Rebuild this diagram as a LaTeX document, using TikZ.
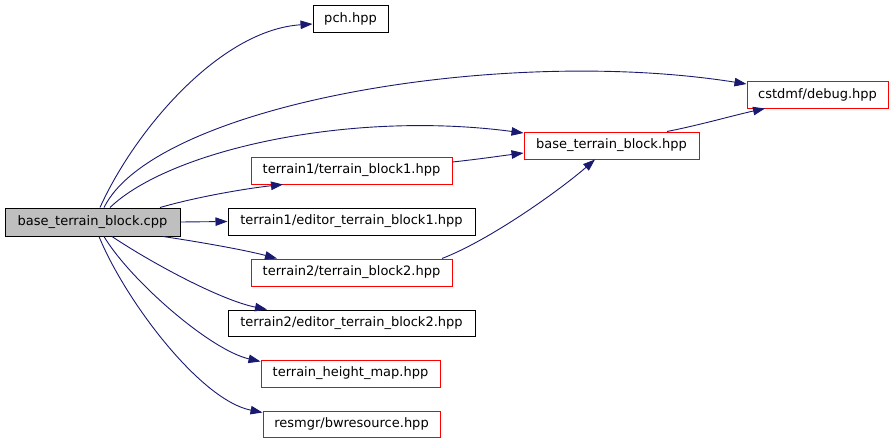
\documentclass[tikz,border=0pt]{standalone}
\usepackage{fontspec}
\setmainfont{DejaVu Sans}
\definecolor{EdgeBlue}{RGB}{25,25,112}
\definecolor{RootGray}{RGB}{191,191,191}
\usetikzlibrary{arrows.meta}
\tikzset{
  file/.style={draw=black, line width=1pt, minimum height=27pt, inner sep=0pt, font=\fontsize{13}{15}\selectfont},
  redfile/.style={file, draw=red},
  include/.style={EdgeBlue, line width=0.9pt, -{Triangle[length=12pt,width=8.5pt]}}
}

\begin{document}
\begin{tikzpicture}[x=1pt,y=-1pt]
    \useasboundingbox (0,0) rectangle (893,442);

    % Files
    \node[file, fill=RootGray, minimum width=175pt, minimum height=28pt] (cpp) at (92.5,222) {base\_terrain\_block.cpp};
    \node[file, minimum width=75pt] (pch) at (350.5,18.5) {pch.hpp};
    \node[redfile, minimum width=141pt] (debug) at (817.5,94.5) {cstdmf/debug.hpp};
    \node[redfile, minimum width=175pt] (bthpp) at (611.5,145.5) {base\_terrain\_block.hpp};
    \node[redfile, minimum width=201pt] (tb1) at (351.5,170.5) {terrain1/terrain\_block1.hpp};
    \node[file, minimum width=247pt] (etb1) at (351.5,221.5) {terrain1/editor\_terrain\_block1.hpp};
    \node[redfile, minimum width=201pt] (tb2) at (351.5,272.5) {terrain2/terrain\_block2.hpp};
    \node[file, minimum width=247pt, minimum height=26pt] (etb2) at (351.5,323) {terrain2/editor\_terrain\_block2.hpp};
    \node[redfile, minimum width=179pt] (hmap) at (350.5,373.5) {terrain\_height\_map.hpp};
    \node[redfile, minimum width=177pt, minimum height=26pt] (bwres) at (351.5,424) {resmgr/bwresource.hpp};

    % Includes of the root file
    \draw[include] ([xshift=7.5pt]cpp.north) .. controls (135,130) and (220,30) .. ([yshift=-5.5pt]pch.west);
    \draw[include] ([xshift=11.5pt]cpp.north) .. controls (155,105) and (500,45) .. ([yshift=10.5pt]debug.west);
    \draw[include] ([xshift=17.5pt]cpp.north) .. controls (170,150) and (350,110) .. ([yshift=12.5pt]bthpp.west);
    \draw[include] ([xshift=67.5pt]cpp.north) .. controls (200,196) and (250,188) .. ([xshift=-68.5pt]tb1.south);
    \draw[include] (cpp.east) -- (etb1.west);
    \draw[include] ([xshift=70.5pt]cpp.south) .. controls (200,242) and (245,250) .. ([xshift=-74.5pt]tb2.north);
    \draw[include] ([xshift=19.5pt]cpp.south) .. controls (150,262) and (220,300) .. ([xshift=-84.5pt]etb2.north);
    \draw[include] ([xshift=11.5pt]cpp.south) .. controls (130,280) and (210,350) .. ([yshift=-2pt]hmap.north west);
    \draw[include] ([xshift=6.5pt]cpp.south) .. controls (125,300) and (200,400) .. ([yshift=-2pt]bwres.north west);

    % Includes between headers
    \draw[include] ([yshift=8.5pt]tb1.east) .. controls (480,159) and (500,156) .. ([yshift=-7.5pt]bthpp.west);
    \draw[include] ([xshift=90.5pt]tb2.north) .. controls (490,240) and (560,190) .. ([xshift=-16.5pt]bthpp.south);
    \draw[include] ([xshift=55.5pt]bthpp.north) .. controls (700,125) and (735,115) .. ([xshift=-52.5pt]debug.south);
\end{tikzpicture}
\end{document}
